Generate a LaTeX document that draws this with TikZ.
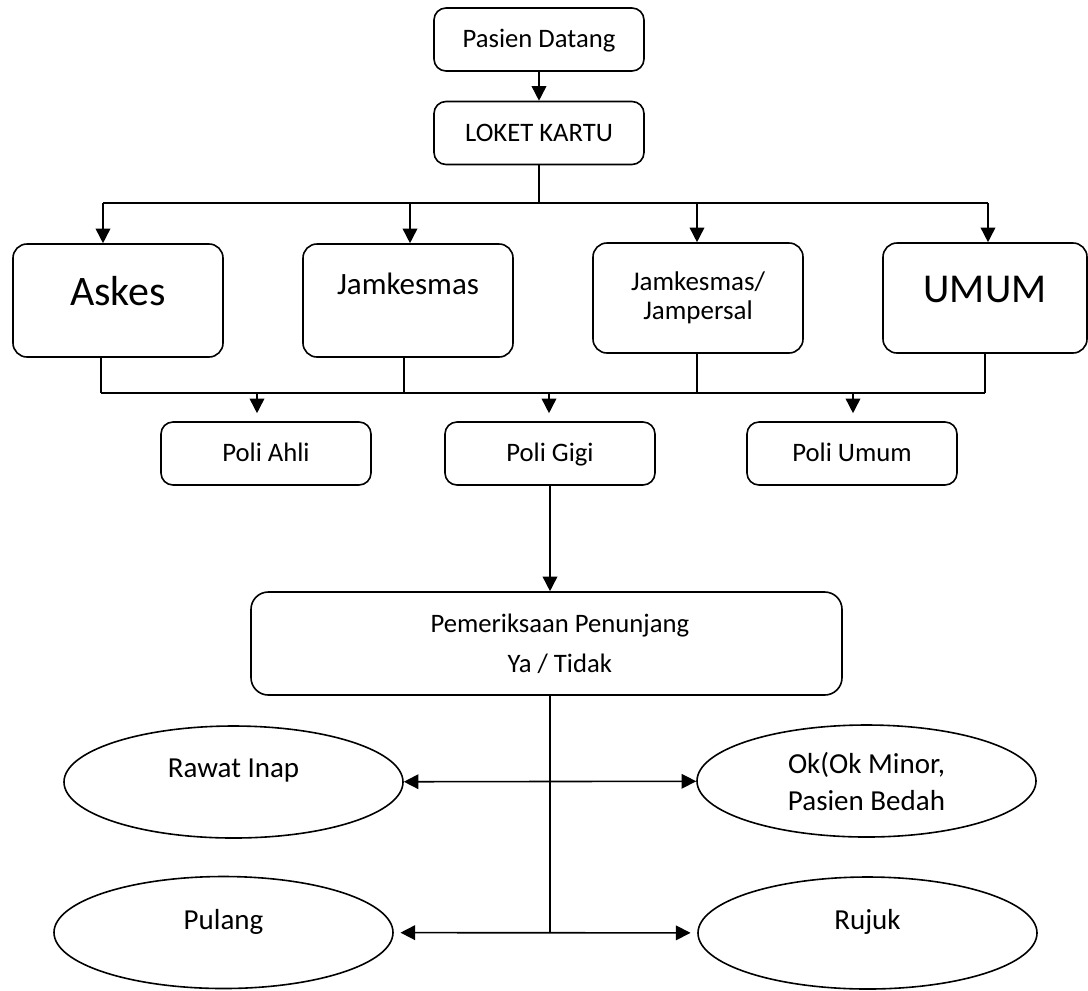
\documentclass[tikz,border=0pt]{standalone}
\usepackage{fontspec}
\setmainfont{Carlito}
\usetikzlibrary{arrows.meta,shapes.geometric}

\begin{document}
\begin{tikzpicture}[x=0.75pt, y=-0.75pt, line width=1.2pt,
    >={Triangle[width=11pt,length=11pt]},
    box/.style={draw, rounded corners=9pt, inner sep=0pt, minimum width=157.5pt,
        minimum height=47.25pt, font=\fontsize{20}{24}\selectfont},
    onerow/.style={box, text height=14.5pt, text depth=2pt},
    kind/.style={draw, rounded corners=10.5pt, inner sep=0pt, minimum width=157.5pt,
        minimum height=84.75pt},
    oval/.style={draw, ellipse, inner sep=0pt, minimum width=254.25pt,
        minimum height=84pt, align=center, font=\fontsize{21.75}{27.75}\selectfont}]

    \useasboundingbox (0,0) rectangle (1088,990);

    % Patient arrives and goes to the card counter
    \node[onerow] (datang) at (539,39.5) {Pasien Datang};
    \node[onerow] (loket) at (539,133) {LOKET KARTU};

    % Kinds of payment
    \node[kind, font=\fontsize{31.5}{36}\selectfont, text depth=14.25pt] (askes) at (118,300.5) {Askes};
    \node[kind, font=\fontsize{23.25}{28}\selectfont, text depth=24.75pt] (jamkesmas) at (408,300.5) {Jamkesmas};
    \node[kind, minimum height=82.5pt, align=center, font=\fontsize{20.25}{22}\selectfont] (jampersal) at (698,298) {Jamkesmas/\\Jampersal};
    \node[kind, minimum width=153pt, minimum height=82.5pt, font=\fontsize{30.75}{36}\selectfont, text depth=13.5pt] (umum) at (985,298) {UMUM};

    % Clinics
    \node[onerow] (ahli) at (266,453.5) {Poli Ahli};
    \node[onerow] (gigi) at (550,453.5) {Poli Gigi};
    \node[onerow] (poliumum) at (852,453.5) {Poli Umum};

    % Supporting examination
    \node[box, rounded corners=13pt, minimum width=443.25pt, minimum height=77.25pt,
        align=center, font=\fontsize{20}{30}\selectfont] (periksa) at (546.5,643.5)
        {\hspace*{20pt}Pemeriksaan Penunjang\\\hspace*{20pt}Ya / Tidak};

    % Outcomes
    \node[oval, text depth=20pt] (rawat) at (233.5,782) {Rawat Inap};
    \node[oval] (ok) at (866.5,781) {Ok(Ok Minor,\\Pasien Bedah};
    \node[oval, text depth=20pt] (pulang) at (223.5,932.5) {Pulang};
    \node[oval, text depth=20pt] (rujuk) at (867.5,933) {Rujuk};

    % Top part
    \draw[->] (datang) -- (loket);
    \coordinate (split) at (539,203);
    \draw (loket) -- (split);

    % Split to the kinds of payment
    \foreach \x/\n in {103/askes, 410/jamkesmas, 697/jampersal, 988/umum} {
        \coordinate (in-\n) at (\x,203);
        \draw[->] (in-\n) -- (in-\n |- \n.north);
    }
    \draw (in-askes) -- (in-umum);

    % Join to the clinics
    \foreach \x/\n in {101/askes, 404/jamkesmas, 697/jampersal, 985/umum} {
        \coordinate (out-\n) at (\x,393);
        \draw (out-\n |- \n.south) -- (out-\n);
    }
    \draw (out-askes) -- (out-umum);
    \foreach \x/\n in {257/ahli, 549/gigi, 853/poliumum} {
        \coordinate (to-\n) at (\x,393);
        \draw[->, shorten >=6pt] (to-\n) -- (to-\n |- \n.north);
    }

    % Down to the outcomes
    \draw[->] (gigi) -- (gigi |- periksa.north);
    \coordinate (bottom) at (gigi |- pulang);
    \draw (periksa.south -| gigi) -- (bottom);
    \draw[<->] (rawat) -- (ok);
    \draw[<->, shorten <=5pt, shorten >=5pt] (pulang) -- (rujuk);

\end{tikzpicture}
\end{document}
